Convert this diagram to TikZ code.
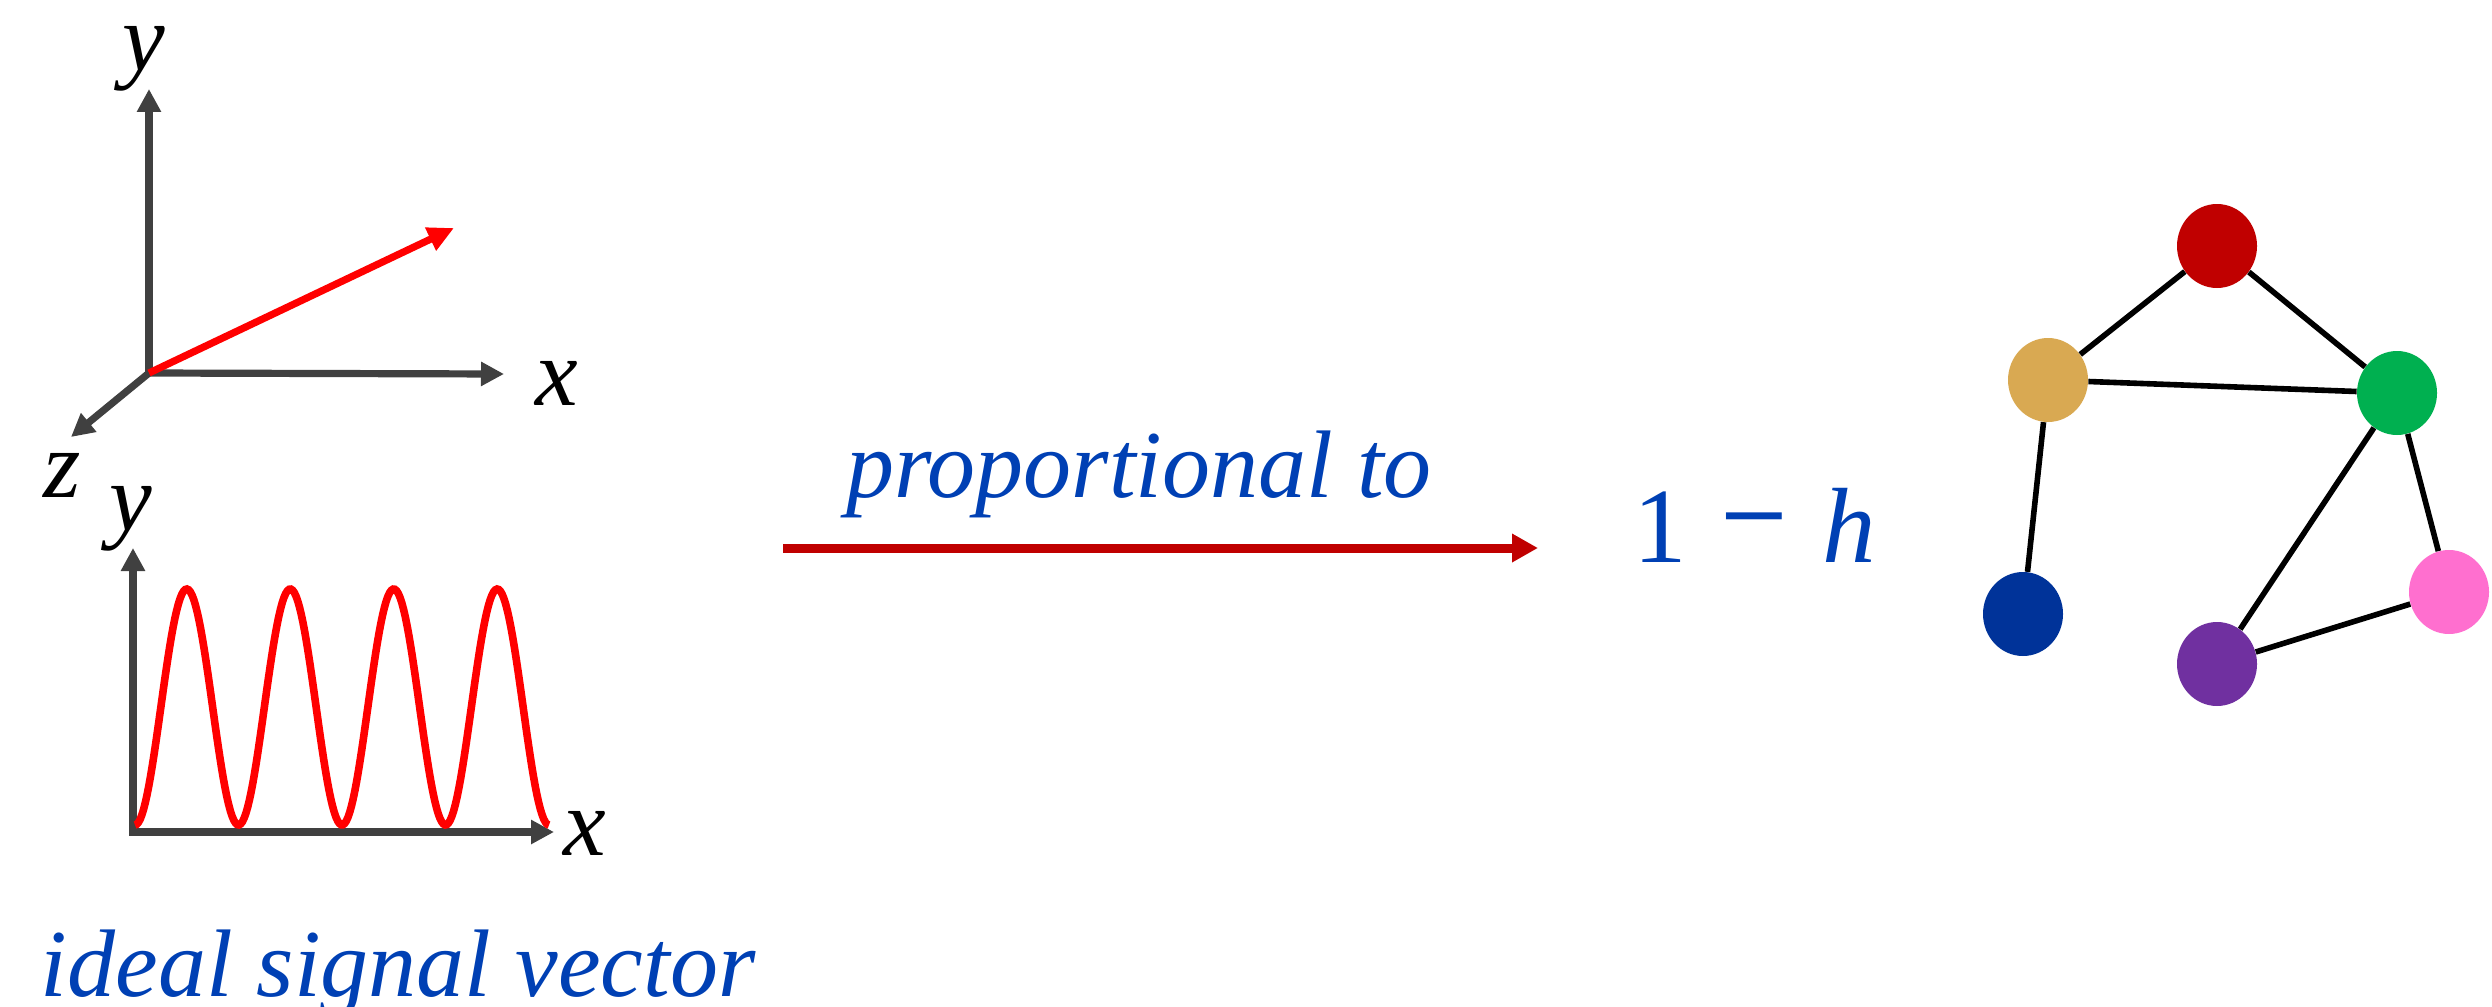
\documentclass[tikz,border=0pt]{standalone}
\usepackage{fontspec}
\setmainfont{Liberation Serif}[ItalicFont={Liberation Serif Italic},BoldFont={Liberation Serif Bold}]
\usetikzlibrary{arrows.meta,shapes.geometric}
\definecolor{axisgray}{HTML}{404040}
\definecolor{vecred}{HTML}{FF0000}
\definecolor{darkred}{HTML}{C00000}
\definecolor{txtblue}{RGB}{0,64,180}
\definecolor{ntan}{HTML}{D9A952}
\definecolor{ngreen}{HTML}{00B050}
\definecolor{nblue}{HTML}{003399}
\definecolor{npurple}{HTML}{7030A0}
\definecolor{npink}{HTML}{FF6FCF}
\definecolor{nred}{HTML}{C00000}
\begin{document}
\begin{tikzpicture}[x=0.5pt,y=-0.5pt,
  axis/.style={draw=axisgray, line width=3.6pt, -{Triangle[length=11.5pt,width=11.5pt]}},
  redvec/.style={draw=vecred, line width=3.6pt, -{Triangle[length=13pt,width=12pt]}},
  lbl/.style={font=\fontsize{48}{48}\selectfont\itshape, inner sep=0pt, anchor=base},
  bluetxt/.style={font=\fontsize{48}{48}\selectfont\itshape, text=txtblue, inner sep=0pt, anchor=base},
  gnode/.style={ellipse, minimum width=40pt, minimum height=42pt, inner sep=0pt, draw=none},
  gedge/.style={line width=2.8pt, black},
]
\useasboundingbox (0,0) rectangle (2492,1006);

% 3D axes
\coordinate (O) at (149,373);
\coordinate (Ob) at (149,376);
\coordinate (Y) at (149,89);
\coordinate (X) at (504,374);
\coordinate (Z) at (71,437);
\coordinate (V) at (454,228);
\draw[axis] (Ob) -- (Y);
\draw[axis] (O) -- (X);
\draw[axis] (O) -- (Z);
\draw[redvec] (O) -- (V);
\node[lbl] (ly1) at (144,71) {y};
\node[lbl] (lx1) at (557,405) {x};
\node[lbl] (lz1) at (62,497) {z};

% wave plot
\coordinate (W0) at (133,832);
\coordinate (WY) at (133,548);
\coordinate (WX) at (554,832);
\draw[axis] (W0) -- (WY);
\draw[axis] ([xshift=-1.8pt]W0) -- (WX);
\draw[vecred, line width=3.8pt] plot[domain=135:549, samples=240] (\x, {707+118*cos(((\x-135)/103.5)*360)});
\node[lbl] (ly2) at (131,530) {y};
\node[lbl] (lx2) at (585,855) {x};

\node[bluetxt] (ideal) at (398,996) {ideal signal vector};

% main arrow
\coordinate (AS) at (783,548);
\coordinate (AE) at (1538,548);
\draw[darkred, line width=4.5pt, -{Triangle[length=13pt,width=13.5pt]}] (AS) -- (AE);
\node[bluetxt] (prop) at (1139,497) {proportional to};
\node[inner sep=0pt, anchor=base west, text=txtblue, font=\fontsize{53.5}{53.5}\selectfont] (oneh) at (1633,562) {1\hspace{17pt}\scalebox{1.12}[1.3]{−}\hspace{17pt}\textit{h}};

% graph
\node[gnode, fill=nred] (r) at (2217,246) {};
\node[gnode, fill=ntan] (t) at (2048,380) {};
\node[gnode, fill=ngreen] (g) at (2397,393) {};
\node[gnode, fill=nblue] (b) at (2023,614) {};
\node[gnode, fill=npurple] (p) at (2217,664) {};
\node[gnode, fill=npink] (k) at (2449,592) {};
\draw[gedge] (r) -- (t);
\draw[gedge] (r) -- (g);
\draw[gedge] (t) -- (g);
\draw[gedge] (t) -- (b);
\draw[gedge] (g) -- (p);
\draw[gedge] (g) -- (k);
\draw[gedge] (p) -- (k);
\end{tikzpicture}
\end{document}
